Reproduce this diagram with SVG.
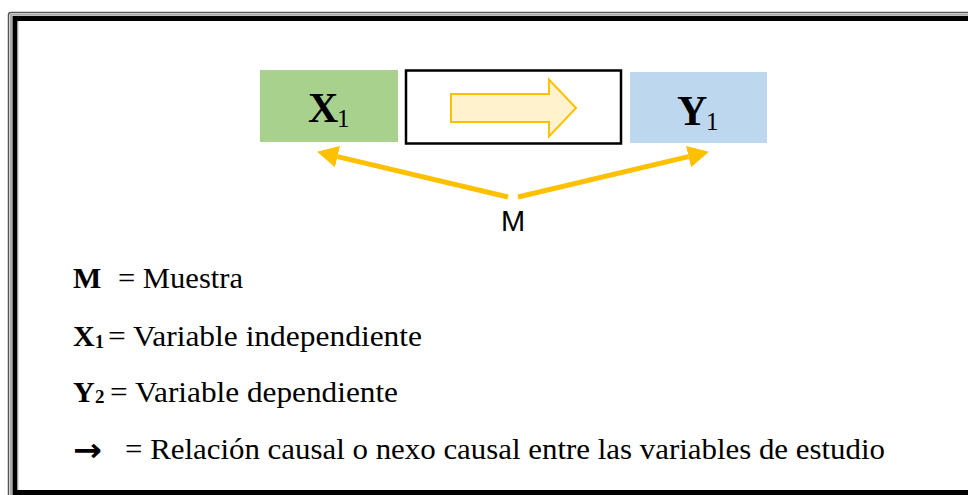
<svg xmlns="http://www.w3.org/2000/svg" width="968" height="495" viewBox="0 0 968 495">
  <style>
    .serif { font-family: 'Liberation Serif', 'Times New Roman', serif; fill: #000; }
    .sans { font-family: 'Liberation Sans', Arial, sans-serif; fill: #000; }
    .conn { stroke: #FFC000; stroke-width: 5; fill: none; }
  </style>
  <defs>
    <marker id="head" markerUnits="userSpaceOnUse" markerWidth="22" markerHeight="24" refX="0" refY="12" orient="auto">
      <path d="M0,1 L21,12 L0,23 z" fill="#FFC000"/>
    </marker>
  </defs>
  <rect x="0" y="0" width="968" height="495" fill="#fff"/>

  <g id="frame">
    <path d="M8.5,495 L8.5,15 Q8.5,12.5 11,12.5 L968,12.5" fill="none" stroke="#555" stroke-width="1.5"/>
    <path d="M11,495 L11,14.8 L968,14.8" fill="none" stroke="#aaa" stroke-width="2"/>
    <rect x="15" y="18.5" width="1000" height="474" fill="none" stroke="#000" stroke-width="5"/>
    <line x1="18" y1="21" x2="18" y2="490" stroke="#bbb" stroke-width="1"/>
  </g>

  <g id="node-x1" class="serif">
    <rect x="260" y="70" width="138" height="72" fill="#A9D18E"/>
    <text x="308" y="122" font-size="42" font-weight="bold">X</text>
    <text x="337" y="127" font-size="25">1</text>
  </g>

  <g id="node-relation">
    <rect x="406" y="70.5" width="215" height="73" fill="#fff" stroke="#000" stroke-width="2.5"/>
    <polygon points="451,94 549,94 549,79.5 576,108 549,136.5 549,122 451,122" fill="#FFF2CC" stroke="#FFC000" stroke-width="2"/>
  </g>

  <g id="node-y1" class="serif">
    <rect x="630" y="72" width="137" height="71" fill="#BDD7EE"/>
    <text x="677" y="125" font-size="42" font-weight="bold">Y</text>
    <text x="706" y="130" font-size="25">1</text>
  </g>

  <g id="node-m">
    <text class="sans" x="513" y="231" font-size="29" text-anchor="middle">M</text>
  </g>

  <g id="connectors">
    <line class="conn" x1="508" y1="197" x2="337.5" y2="156.6" marker-end="url(#head)"/>
    <line class="conn" x1="518" y1="197" x2="688.5" y2="156.6" marker-end="url(#head)"/>
  </g>

  <g id="legend" class="serif" font-size="30">
    <text x="73" y="288" font-weight="bold">M</text>
    <text x="118" y="288" textLength="125" lengthAdjust="spacingAndGlyphs">= Muestra</text>

    <text x="73" y="346" font-weight="bold">X</text>
    <text x="95" y="348" font-size="18" font-weight="bold">1</text>
    <text x="108" y="346" textLength="314" lengthAdjust="spacingAndGlyphs">= Variable independiente</text>

    <text x="73" y="402" font-weight="bold">Y</text>
    <text x="95" y="403" font-size="19" font-weight="bold">2</text>
    <text x="110" y="402" textLength="288" lengthAdjust="spacingAndGlyphs">= Variable dependiente</text>

    <text x="73" y="461" font-size="32" font-weight="bold" style="font-family:'DejaVu Sans', sans-serif" textLength="29" lengthAdjust="spacingAndGlyphs">→</text>
    <text x="125" y="459" textLength="760" lengthAdjust="spacingAndGlyphs">= Relación causal o nexo causal entre las variables de estudio</text>
  </g>
</svg>
